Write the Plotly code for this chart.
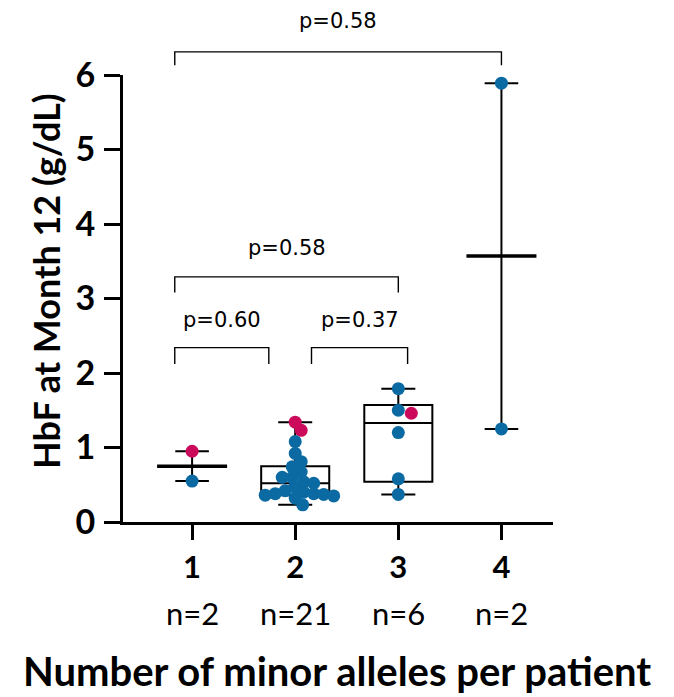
import plotly.graph_objects as go
import numpy as np

# ---------------- data ----------------
categories = [1, 2, 3, 4]
tick_labels = ["1", "2", "3", "4"]
n_labels = ["n=2", "n=21", "n=6", "n=2"]

# group values (HbF g/dL); flag True = magenta highlighted patient
g1_values = [0.95, 0.55]
g1_flag = [True, False]
g2_values = [1.34, 1.23, 1.08, 0.92, 0.81, 0.74, 0.67, 0.60, 0.60, 0.54, 0.52,
             0.47, 0.42, 0.40, 0.38, 0.38, 0.37, 0.36, 0.35, 0.32, 0.23]
g2_flag = [True, True] + [False] * 19
g3_values = [1.79, 1.50, 1.46, 1.20, 0.58, 0.37]
g3_flag = [False, False, True, False, False, False]
g4_values = [5.89, 1.25]
g4_flag = [False, False]

# box summaries (as drawn) for groups 2 and 3
box_groups = [2, 3]
box_q1 = [0.36, 0.54]
box_median = [0.52, 1.33]
box_q3 = [0.75, 1.57]
box_min = [0.23, 0.37]
box_max = [1.34, 1.79]

# comparisons: (group a, group b, label)
comparisons = [(1, 4, "p=0.58"), (1, 3, "p=0.58"), (1, 2, "p=0.60"), (2, 3, "p=0.37")]

# ---------------- layout geometry ----------------
W_FIG, H_FIG = 674, 697
M_L, M_R, M_T, M_B = 123, 121, 75, 175
X_RANGE = [0.33, 4.5]
Y_RANGE = [0, 6]
PW = W_FIG - M_L - M_R
PH = H_FIG - M_T - M_B
px_per_x = PW / (X_RANGE[1] - X_RANGE[0])
px_per_y = PH / (Y_RANGE[1] - Y_RANGE[0])

BLUE = "#0b6aa2"
MAGENTA = "#cc0a5c"
MARKER = 13


def swarm_offsets(values, diam_px, first_sign=1):
    """simple beeswarm: offsets in data-x units"""
    order = np.argsort(values)[::-1]
    placed = []
    offs = [0.0] * len(values)
    for i in order:
        yp = values[i] * px_per_y
        best = None
        for step in range(0, 300):
            for sgn in ([1] if step == 0 else [first_sign, -first_sign]):
                xo = sgn * step * 0.5
                ok = True
                for (px_, py_) in placed:
                    if (px_ - xo) ** 2 + (py_ - yp) ** 2 < diam_px ** 2:
                        ok = False
                        break
                if ok:
                    best = xo
                    break
            if best is not None:
                break
        placed.append((best, yp))
        offs[i] = best / px_per_x
    return offs


def paper_y(v):
    return (v - Y_RANGE[0]) / (Y_RANGE[1] - Y_RANGE[0])


fig = go.Figure()

# boxes
for gi, g in enumerate(box_groups):
    fig.add_trace(go.Box(
        x=[g], q1=[box_q1[gi]], median=[box_median[gi]], q3=[box_q3[gi]],
        lowerfence=[box_min[gi]], upperfence=[box_max[gi]],
        width=0.66, whiskerwidth=0.5, fillcolor="rgba(0,0,0,0)",
        line=dict(color="black", width=2), boxpoints=False,
        showlegend=False, hoverinfo="skip"))

# mean + range for n=2 groups
for g, vals in [(1, g1_values), (4, g4_values)]:
    fig.add_trace(go.Scatter(x=[g, g], y=[min(vals), max(vals)], mode="lines",
                             line=dict(color="black", width=2), showlegend=False,
                             hoverinfo="skip"))
    fig.add_trace(go.Scatter(x=[g, g], y=[min(vals), max(vals)], mode="markers",
                             marker=dict(symbol="line-ew", size=24,
                                         line=dict(color="black", width=2)),
                             showlegend=False, hoverinfo="skip", cliponaxis=False))
    fig.add_trace(go.Scatter(x=[g], y=[float(np.mean(vals))], mode="markers",
                             marker=dict(symbol="line-ew", size=50,
                                         line=dict(color="black", width=3.5)),
                             showlegend=False, hoverinfo="skip", cliponaxis=False))

# points
for g, vals, flags in [(1, g1_values, g1_flag), (2, g2_values, g2_flag),
                       (3, g3_values, g3_flag), (4, g4_values, g4_flag)]:
    if len(vals) > 2:
        offs = swarm_offsets(vals, 10 if len(vals) > 10 else 13, 1)
    else:
        offs = [0.0] * len(vals)
    xs = [g + o for o in offs]
    cols = [MAGENTA if f else BLUE for f in flags]
    fig.add_trace(go.Scatter(x=xs, y=vals, mode="markers",
                             marker=dict(size=MARKER, color=cols, line=dict(width=0)),
                             showlegend=False, cliponaxis=False))

# significance brackets
bracket_style = {
    (1, 4): dict(y=6.31, drop=0.18, ty=6.73, x0=0.832, x1=4.0),
    (1, 3): dict(y=3.29, drop=0.21, ty=3.68, x0=0.832, x1=3.0),
    (1, 2): dict(y=2.34, drop=0.22, ty=2.71, x0=0.832, x1=1.744),
    (2, 3): dict(y=2.34, drop=0.22, ty=2.71, x0=2.158, x1=3.09),
}
for a, b, lab in comparisons:
    s = bracket_style[(a, b)]
    y1 = paper_y(s["y"])
    y0 = paper_y(s["y"] - s["drop"])
    fig.add_shape(type="path", xref="x", yref="paper",
                  path=f"M {s['x0']} {y0} L {s['x0']} {y1} L {s['x1']} {y1} L {s['x1']} {y0}",
                  line=dict(color="black", width=1.4))
    fig.add_annotation(x=(s["x0"] + s["x1"]) / 2, y=paper_y(s["ty"]), xref="x", yref="paper",
                       text=lab, showarrow=False, yanchor="middle",
                       font=dict(family="DejaVu Sans", size=21, color="black"))

# n labels
for g, lab in zip(categories, n_labels):
    fig.add_annotation(x=g, y=-91 / PH, xref="x", yref="paper", text=lab,
                       showarrow=False, yanchor="middle",
                       font=dict(family="Lato", size=31, color="black"))

# axis titles
fig.add_annotation(x=(337 - M_L) / PW, y=(H_FIG - M_B - 671) / PH, xref="paper", yref="paper",
                   text="Number of minor alleles per patient", showarrow=False,
                   yanchor="middle", xanchor="center",
                   font=dict(family="Lato", size=40, color="black", weight="bold"))
fig.add_annotation(x=(46 - M_L) / PW, y=(H_FIG - M_B - 281) / PH, xref="paper", yref="paper",
                   text="HbF at Month 12 (g/dL)", showarrow=False, textangle=-90,
                   yanchor="middle", xanchor="center",
                   font=dict(family="Lato", size=36, color="black", weight="bold"))

fig.update_layout(
    width=W_FIG, height=H_FIG,
    margin=dict(l=M_L, r=M_R, t=M_T, b=M_B, autoexpand=False),
    plot_bgcolor="white", paper_bgcolor="white",
    showlegend=False,
    xaxis=dict(range=X_RANGE, tickvals=categories, ticktext=tick_labels,
               showline=True, linewidth=3, linecolor="black", ticks="outside",
               ticklen=15, tickwidth=3, tickcolor="black", showgrid=False,
               zeroline=False, ticklabelstandoff=1,
               tickfont=dict(family="Lato", size=31, color="black", weight="bold")),
    yaxis=dict(range=Y_RANGE, tickvals=[0, 1, 2, 3, 4, 5, 6],
               showline=True, linewidth=3, linecolor="black", ticks="outside",
               ticklen=16, tickwidth=3, tickcolor="black", showgrid=False,
               zeroline=False, ticklabelstandoff=2,
               tickfont=dict(family="Lato", size=34, color="black", weight="bold")),
)

fig.write_html("out.html", config={"displayModeBar": False},
               post_script="document.body.style.margin='0';document.body.style.overflow='hidden';")
